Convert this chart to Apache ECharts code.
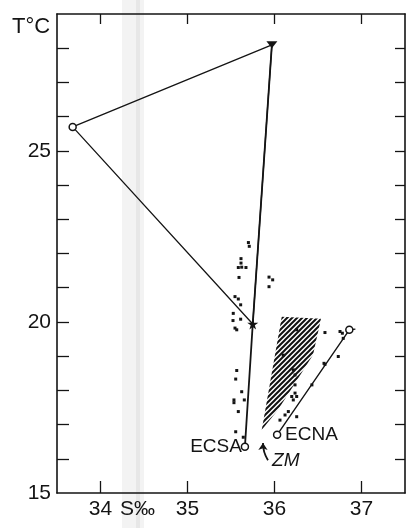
<!DOCTYPE html>
<html>
<head>
<meta charset="utf-8">
<script src="https://cdn.jsdelivr.net/npm/echarts@6/dist/echarts.min.js"></script>
<style>html,body{margin:0;padding:0;background:#fff}#c{width:413px;height:528px}</style>
</head>
<body>
<div id="c"></div>
<script>
// ---- data ----
const salinityTicks = [34, 35, 36, 37];
const tempLabels = [15, 20, 25];
const tempTicks = [16, 17, 18, 19, 20, 21, 22, 23, 24, 25, 26, 27, 28];
// triangle path: circle -> filled triangle -> star -> back to circle
const loopPath = [[33.68, 25.70], [35.97, 28.10], [35.75, 19.94], [33.68, 25.70]];
// near-vertical line: filled triangle -> star -> ECSA
const ecsaPath = [[35.97, 28.10], [35.75, 19.94], [35.66, 16.35]];
// ECNA line
const ecnaPath = [[36.03, 16.70], [36.86, 19.77], [36.93, 19.79]];
const openCircles = [[33.68, 25.70], [35.66, 16.35], [36.03, 16.70], [36.86, 19.77]];
const topTriangle = [[35.97, 28.10]];
const starPoint = [[35.75, 19.94]];
const stationDots = [
  [35.70, 22.32], [35.71, 22.21], [35.615, 21.85], [35.615, 21.72], [35.584, 21.59], [35.623, 21.60],
  [35.672, 21.59], [35.592, 21.30], [35.937, 21.31], [35.979, 21.23], [35.937, 21.03], [35.546, 20.74],
  [35.584, 20.67], [35.611, 20.50], [35.526, 20.25], [35.611, 20.08], [35.523, 20.04], [35.546, 19.82],
  [35.566, 19.77], [35.566, 18.58], [35.554, 18.33], [35.623, 17.96], [35.534, 17.72], [35.534, 17.64],
  [35.653, 17.72], [35.584, 17.38], [35.554, 16.79], [35.641, 16.63],
  [36.58, 19.69], [36.753, 19.72], [36.78, 19.67], [36.79, 19.52], [36.733, 18.99], [36.569, 18.79],
  [36.236, 18.16], [36.236, 17.92], [36.198, 17.82], [36.255, 17.82], [36.216, 17.72], [36.159, 17.38],
  [36.121, 17.28], [36.255, 17.23], [36.063, 17.13],
  [36.255, 19.77], [36.10, 19.03], [36.236, 18.45], [36.216, 18.60], [36.58, 18.76], [36.43, 18.16]
];
// hatched zone outline (S, T)
const hatchZone = [[36.083, 20.15], [36.534, 20.09], [36.443, 19.04], [36.201, 18.07], [36.040, 17.43], [35.853, 16.84]];
// ZM arrow (tail -> head)
const zmArrow = [[35.925, 15.96], [35.868, 16.46]];
const textNotes = [
  { name: 'ECSA', value: [35.66, 16.35], pos: 'left', italic: false, gap: 3 },
  { name: 'ECNA', value: [36.03, 16.70], pos: 'right', italic: false, gap: 8 },
  { name: 'ZM', value: [36.13, 15.95], pos: 'inside', italic: true, gap: 0 }
];

// hatch pattern
const pc = document.createElement('canvas');
pc.width = 5; pc.height = 5;
const pctx = pc.getContext('2d');
pctx.strokeStyle = '#111';
pctx.lineWidth = 2;
pctx.beginPath();
pctx.moveTo(-1, 6); pctx.lineTo(6, -1);
pctx.moveTo(-2, 2); pctx.lineTo(2, -2);
pctx.moveTo(3, 7); pctx.lineTo(7, 3);
pctx.stroke();
const hatchPattern = { image: pc, repeat: 'repeat' };

const starPath = 'path://M50,0 L61,35 L98,35 L68,57 L79,91 L50,70 L21,91 L32,57 L2,35 L39,35 Z';
const ink = '#141414';
const FONT = 'Liberation Sans';

const chart = echarts.init(document.getElementById('c'), null, { renderer: 'canvas' });
const axisBase = {
  type: 'value', min: 33.5, max: 37.5,
  axisLine: { show: true, lineStyle: { color: ink, width: 1.6 } },
  splitLine: { show: false }
};
chart.setOption({
  animation: false,
  backgroundColor: '#fff',
  grid: { left: 57, top: 14, width: 348, height: 479 },
  graphic: [
    { type: 'rect', z: -10, left: 122, top: 0, shape: { width: 22, height: 528 }, style: { fill: '#f3f3f3' } },
    { type: 'rect', z: -9, left: 136, top: 0, shape: { width: 4, height: 528 }, style: { fill: '#e7e7e7' } },
    { type: 'text', left: 12, top: 16, style: { text: 'T°C', font: '22px "Liberation Sans"', fill: ink } },
    { type: 'text', left: 120, top: 499, style: { text: 'S‰', font: '21px "Liberation Sans"', fill: ink } }
  ],
  xAxis: [
    Object.assign({}, axisBase, {
      position: 'bottom',
      axisTick: { show: true, inside: true, length: 12, customValues: salinityTicks, lineStyle: { color: ink, width: 1.3 } },
      axisLabel: { customValues: salinityTicks, fontSize: 21, fontFamily: FONT, color: ink, margin: 6 }
    }),
    Object.assign({}, axisBase, {
      position: 'top',
      axisTick: { show: true, inside: true, length: 10, customValues: salinityTicks, lineStyle: { color: ink, width: 1.3 } },
      axisLabel: { show: false }
    })
  ],
  yAxis: [
    {
      type: 'value', min: 15, max: 29, position: 'left',
      axisLine: { show: true, lineStyle: { color: ink, width: 1.6 } },
      splitLine: { show: false },
      axisTick: { show: true, inside: true, length: 12, customValues: tempTicks, lineStyle: { color: ink, width: 1.3 } },
      axisLabel: { customValues: tempLabels, fontSize: 21, fontFamily: FONT, color: ink, margin: 6 }
    },
    {
      type: 'value', min: 15, max: 29, position: 'right',
      axisLine: { show: true, lineStyle: { color: ink, width: 1.6 } },
      splitLine: { show: false },
      axisTick: { show: true, inside: true, length: 10, customValues: tempTicks, lineStyle: { color: ink, width: 1.3 } },
      axisLabel: { show: false }
    }
  ],
  series: [
    {
      type: 'custom', z: 1, silent: true,
      data: [hatchZone[0]],
      renderItem: function (params, api) {
        const pts = hatchZone.map(function (p) { return api.coord(p); });
        return { type: 'polygon', shape: { points: pts }, style: { fill: hatchPattern, stroke: null } };
      }
    },
    { type: 'line', data: loopPath, symbol: 'none', lineStyle: { color: ink, width: 1.3 }, z: 3 },
    { type: 'line', data: ecsaPath, symbol: 'none', lineStyle: { color: ink, width: 1.8 }, z: 3 },
    { type: 'line', data: ecnaPath, symbol: 'none', lineStyle: { color: ink, width: 1.4 }, z: 3 },
    { type: 'scatter', data: stationDots, symbol: 'rect', symbolSize: 3, itemStyle: { color: ink, opacity: 1 }, z: 4 },
    {
      type: 'scatter', data: openCircles, symbol: 'circle', symbolSize: 7,
      itemStyle: { color: '#fff', borderColor: ink, borderWidth: 1.5, opacity: 1 }, z: 5
    },
    { type: 'scatter', data: topTriangle, symbol: 'triangle', symbolRotate: 180, symbolSize: [11, 7], itemStyle: { color: ink, opacity: 1 }, z: 5 },
    { type: 'scatter', data: starPoint, symbol: starPath, symbolSize: 11, itemStyle: { color: ink, opacity: 1 }, z: 5 },
    {
      type: 'lines', coordinateSystem: 'cartesian2d', polyline: false,
      data: [{ coords: zmArrow }],
      symbol: ['none', 'arrow'], symbolSize: 7,
      lineStyle: { color: ink, width: 1.8, opacity: 1, curveness: 0.15 }, z: 5
    },
    {
      type: 'scatter', symbolSize: 0, z: 6,
      itemStyle: { opacity: 1 },
      data: textNotes.map(function (t) {
        return {
          value: t.value,
          label: {
            show: true, formatter: t.name, position: t.pos, distance: t.gap,
            fontSize: 19, fontFamily: FONT, color: ink,
            fontStyle: t.italic ? 'italic' : 'normal'
          }
        };
      })
    }
  ]
});
</script>
</body>
</html>
